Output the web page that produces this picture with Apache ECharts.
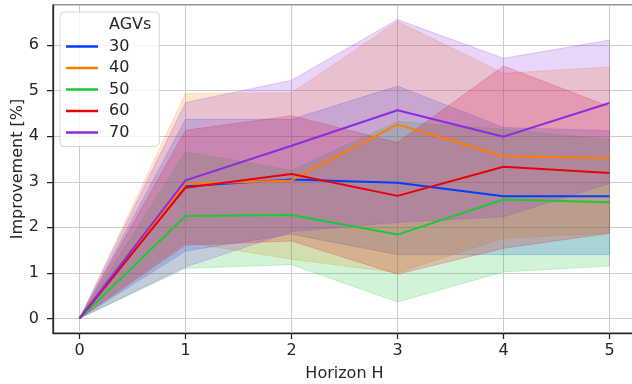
<!DOCTYPE html>
<html>
<head>
<meta charset="utf-8">
<script src="https://cdn.jsdelivr.net/npm/echarts@6/dist/echarts.min.js"></script>
<style>
html,body{margin:0;padding:0;background:#fff;}
#chart{width:632px;height:384px;}
</style>
</head>
<body>
<div id="chart"></div>
<script>
// ---- data ----
const horizon = [0, 1, 2, 3, 4, 5];
const seriesNames = ['30', '40', '50', '60', '70'];

const mean30 = [0, 2.90, 3.05, 2.98, 2.68, 2.68];
const low30  = [0, 1.48, 1.85, 1.40, 1.40, 1.40];
const up30   = [0, 4.37, 4.37, 5.10, 4.19, 4.12];

const mean40 = [0, 2.95, 3.03, 4.26, 3.56, 3.52];
const low40  = [0, 1.67, 1.30, 1.00, 1.76, 1.87];
const up40   = [0, 4.94, 4.95, 6.52, 5.38, 5.52];

const mean50 = [0, 2.25, 2.27, 1.84, 2.61, 2.55];
const low50  = [0, 1.10, 1.18, 0.36, 1.02, 1.15];
const up50   = [0, 3.66, 3.25, 4.32, 4.15, 3.93];

const mean60 = [0, 2.87, 3.17, 2.69, 3.33, 3.19];
const low60  = [0, 1.61, 1.70, 0.97, 1.54, 1.87];
const up60   = [0, 4.13, 4.45, 3.86, 5.54, 4.65];

const mean70 = [0, 3.03, 3.79, 4.57, 3.99, 4.73];
const low70  = [0, 1.13, 1.90, 2.11, 2.23, 2.96];
const up70   = [0, 4.74, 5.23, 6.56, 5.71, 6.11];

const colors = ['#023eff', '#ff7c00', '#1ac938', '#e8000b', '#8b2be2'];
const means = [mean30, mean40, mean50, mean60, mean70];
const lows = [low30, low40, low50, low60, low70];
const ups = [up30, up40, up50, up60, up70];

function rgba(hex, a) {
  const r = parseInt(hex.slice(1,3),16), g = parseInt(hex.slice(3,5),16), b = parseInt(hex.slice(5,7),16);
  return 'rgba(' + r + ',' + g + ',' + b + ',' + a + ')';
}

const series = [];
seriesNames.forEach(function(name, k) {
  const lo = lows[k], up = ups[k], col = colors[k];
  series.push({
    type: 'custom',
    name: name + ' band',
    silent: true,
    z: 1,
    encode: {x: 0, y: 1},
    data: [[0, 0]],
    clip: true,
    renderItem: function(params, api) {
      const pts = [];
      for (let i = 0; i < horizon.length; i++) pts.push(api.coord([horizon[i], up[i]]));
      for (let i = horizon.length - 1; i >= 0; i--) pts.push(api.coord([horizon[i], lo[i]]));
      return {
        type: 'polygon',
        shape: {points: pts},
        style: {fill: rgba(col, 0.2), stroke: rgba(col, 0.2), lineWidth: 1}
      };
    }
  });
});
seriesNames.forEach(function(name, k) {
  series.push({
    type: 'line',
    name: name,
    z: 3,
    symbol: 'none',
    color: colors[k],
    lineStyle: {width: 2, color: colors[k]},
    data: horizon.map(function(h, i) { return [h, means[k][i]]; })
  });
});
series.push({type: 'line', name: 'AGVs', data: []});

const textColor = '#262626';
const font = 'DejaVu Sans';

const chart = echarts.init(document.getElementById('chart'), null, {renderer: 'canvas'});
chart.setOption({
  animation: false,
  backgroundColor: '#ffffff',
  grid: {
    left: 53, top: 5, bottom: 51, right: -4,
    outerBoundsMode: 'none',
    show: true, borderColor: textColor, borderWidth: 1.25,
    containLabel: false
  },
  legend: {
    orient: 'vertical',
    left: 60, top: 12,
    padding: [5, 8, 6, 6],
    itemGap: 5.5,
    itemWidth: 32, itemHeight: 2.5,
    icon: 'rect',
    backgroundColor: 'rgba(255,255,255,0.8)',
    borderColor: '#d6d6d6', borderWidth: 1, borderRadius: 4,
    textStyle: {color: textColor, fontFamily: font, fontSize: 16, padding: [0, 0, 0, 6]},
    data: [{name: 'AGVs', icon: 'none'}, '30', '40', '50', '60', '70'],
    selectedMode: false
  },
  xAxis: {
    type: 'value',
    min: -0.25, max: 5.25,
    name: 'Horizon H', nameLocation: 'middle', nameGap: 33, nameMoveOverlap: false,
    nameTextStyle: {color: textColor, fontFamily: font, fontSize: 16},
    axisLine: {show: true, onZero: false, lineStyle: {color: textColor, width: 1.25}},
    axisTick: {show: true, inside: false, length: 6, lineStyle: {color: textColor, width: 1.25}},
    axisLabel: {color: textColor, fontFamily: font, fontSize: 16, margin: 10, showMinLabel: false, showMaxLabel: false,
      formatter: function(v){ return Number.isInteger(v) ? String(v) : ''; }},
    splitLine: {show: true, lineStyle: {color: '#cccccc', width: 1}}
  },
  yAxis: {
    type: 'value',
    min: -0.32, max: 6.88,
    name: 'Improvement [%]', nameLocation: 'middle', nameGap: 27, nameMoveOverlap: false,
    nameTextStyle: {color: textColor, fontFamily: font, fontSize: 16},
    axisLine: {show: true, onZero: false, lineStyle: {color: textColor, width: 1.25}},
    axisTick: {show: true, inside: false, length: 6, lineStyle: {color: textColor, width: 1.25}},
    axisLabel: {color: textColor, fontFamily: font, fontSize: 16, margin: 14, showMinLabel: false, showMaxLabel: false,
      formatter: function(v){ return Number.isInteger(v) ? String(v) : ''; }},
    splitLine: {show: true, lineStyle: {color: '#cccccc', width: 1}}
  },
  series: series
});
</script>
</body>
</html>
